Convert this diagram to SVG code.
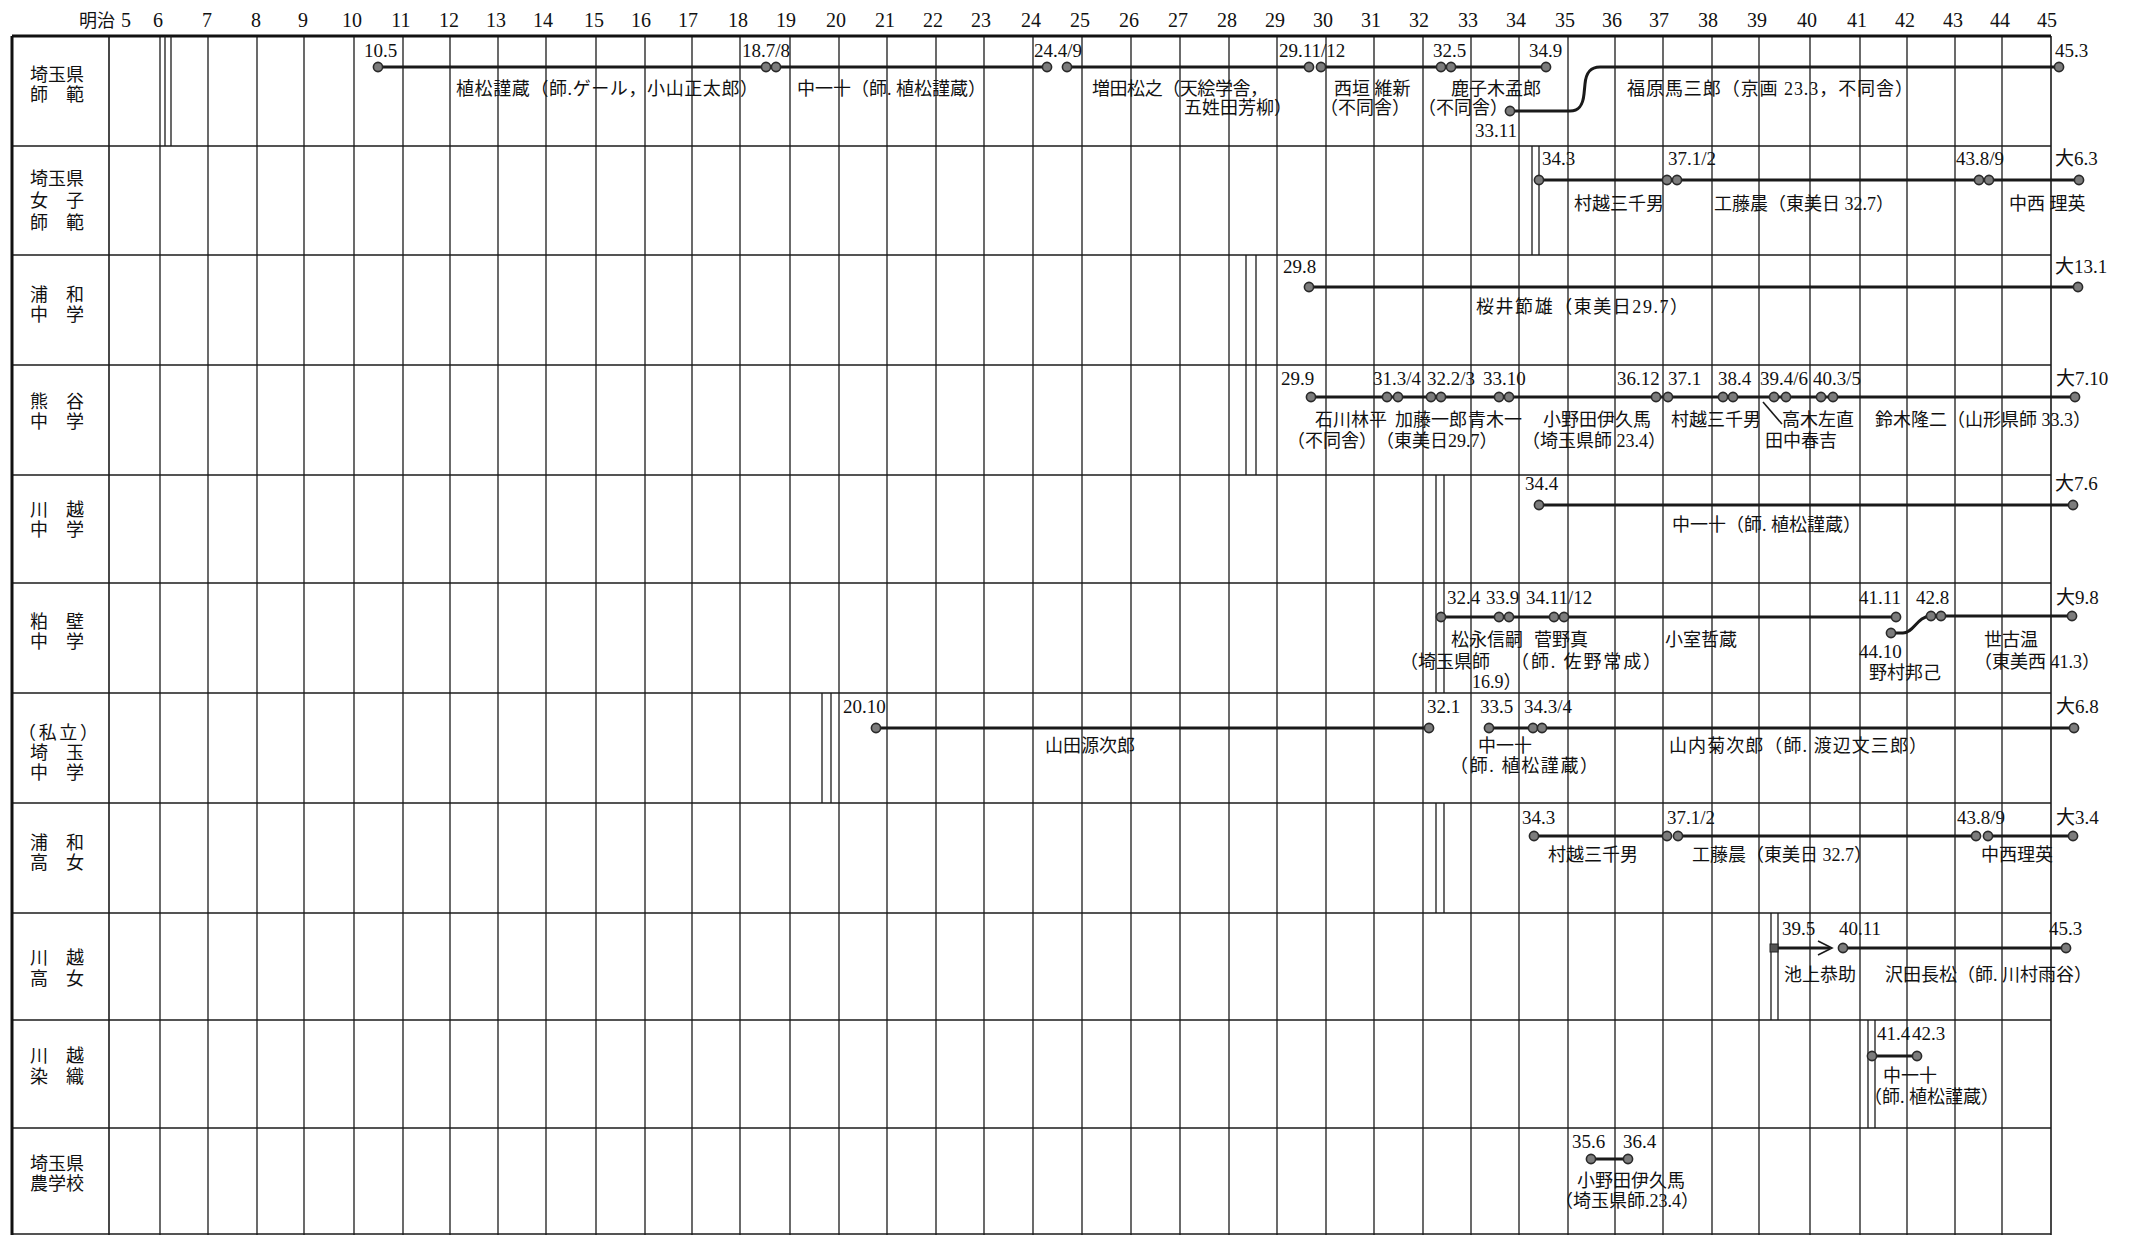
<svg xmlns="http://www.w3.org/2000/svg" xmlns:xlink="http://www.w3.org/1999/xlink" width="2133" height="1236" viewBox="0 0 2133 1236">
<style>
.g{stroke:#1c1c1c;stroke-width:1.3;fill:none}
.hl{stroke:#1c1c1c;stroke-width:1.6;fill:none}
.bd{stroke:#111;stroke-width:3;fill:none}
.bar{stroke:#1a1a1a;stroke-width:3;fill:none;stroke-linecap:butt}
.thin{stroke:#1a1a1a;stroke-width:1.6;fill:none}
.dot{fill:#7c7c7c;stroke:#2a2a2a;stroke-width:1.6}
.yr{font-family:"Liberation Serif","Noto Sans CJK JP",serif;font-size:20px;fill:#111;text-anchor:middle}
.d{font-family:"Liberation Serif","Noto Sans CJK JP",serif;font-size:19px;fill:#111}
.n{font-family:"Liberation Serif","Noto Sans CJK JP",sans-serif;font-size:18px;fill:#111}
.lb{font-family:"Noto Sans CJK JP",sans-serif;font-size:18px;fill:#111}
</style>
<defs>
<circle id="dot" r="4.6" class="dot"/>
</defs>
<rect width="2133" height="1236" fill="#fff"/>

<g id="grid">
<path class="g" d="M160,36V1235M208,36V1235M257,36V1235M304,36V1235M354,36V1235M403,36V1235M450,36V1235M498,36V1235M546,36V1235M596,36V1235M645,36V1235M692,36V1235M740,36V1235M790,36V1235M839,36V1235M887,36V1235M936,36V1235M984,36V1235M1033,36V1235M1082,36V1235M1131,36V1235M1180,36V1235M1229,36V1235M1277,36V1235M1326,36V1235M1374,36V1235M1423,36V1235M1471,36V1235M1519,36V1235M1568,36V1235M1615,36V1235M1663,36V1235M1712,36V1235M1759,36V1235M1810,36V1235M1860,36V1235M1907,36V1235M1955,36V1235M2002,36V1235"/>
<path class="hl" d="M12,146H2051M12,255H2051M12,365H2051M12,475H2051M12,583H2051M12,693H2051M12,803H2051M12,913H2051M12,1020H2051M12,1128H2051M12,1234H2051"/>
<path class="hl" d="M109,36V1235M2051,36V1235"/>
<path class="bd" d="M12,36H2051M12,36V1235"/>
<path class="g" d="M165,36V146M171,36V146M1532,146V255M1539,146V255M1246,255V475M1256,255V475M1436,475V693M1444,475V693M1436,803V913M1444,803V913M822,693V803M831,693V803M1771,913V1020M1778,913V1020M1868,1020V1128M1875,1020V1128"/>
</g>

<g id="header">
<text class="lb" x="79" y="27">明治<tspan x="121" style="font-family:'Liberation Serif',serif;font-size:20px">5</tspan></text>
<text class="yr" x="158" y="27">6</text><text class="yr" x="207" y="27">7</text><text class="yr" x="256" y="27">8</text><text class="yr" x="303" y="27">9</text><text class="yr" x="352" y="27">10</text><text class="yr" x="401" y="27">11</text><text class="yr" x="449" y="27">12</text><text class="yr" x="496" y="27">13</text><text class="yr" x="543" y="27">14</text><text class="yr" x="594" y="27">15</text><text class="yr" x="641" y="27">16</text><text class="yr" x="688" y="27">17</text><text class="yr" x="738" y="27">18</text><text class="yr" x="786" y="27">19</text><text class="yr" x="836" y="27">20</text><text class="yr" x="885" y="27">21</text><text class="yr" x="933" y="27">22</text><text class="yr" x="981" y="27">23</text><text class="yr" x="1031" y="27">24</text><text class="yr" x="1080" y="27">25</text><text class="yr" x="1129" y="27">26</text><text class="yr" x="1178" y="27">27</text><text class="yr" x="1227" y="27">28</text><text class="yr" x="1275" y="27">29</text><text class="yr" x="1323" y="27">30</text><text class="yr" x="1371" y="27">31</text><text class="yr" x="1419" y="27">32</text><text class="yr" x="1468" y="27">33</text><text class="yr" x="1516" y="27">34</text><text class="yr" x="1565" y="27">35</text><text class="yr" x="1612" y="27">36</text><text class="yr" x="1659" y="27">37</text><text class="yr" x="1708" y="27">38</text><text class="yr" x="1757" y="27">39</text><text class="yr" x="1807" y="27">40</text><text class="yr" x="1857" y="27">41</text><text class="yr" x="1905" y="27">42</text><text class="yr" x="1953" y="27">43</text><text class="yr" x="2000" y="27">44</text><text class="yr" x="2047" y="27">45</text>
</g>

<g id="connectors">
<path class="bar" d="M378,67H766M776,67H1047M1067,67H1309M1321,67H1441M1451,67H1546"/>
<path class="bar" d="M1510,111H1570C1580,111 1583,104 1584,94L1585,84C1586,73 1590,67 1600,67H2059"/>
<path class="bar" d="M1539,180H1667M1677,180H1979M1989,180H2079"/>
<path class="bar" d="M1309,287H2078"/>
<path class="bar" d="M1311,397H2075"/>
<path class="thin" d="M1763,402L1782,424"/>
<path class="bar" d="M1539,505H2073"/>
<path class="bar" d="M1441,617H1896M1941,616H2072"/>
<path class="bar" d="M1891,633H1903C1914,633 1917,616 1931,616"/>
<path class="bar" d="M876,728H1429M1489,728H1533M1542,728H2074"/>
<path class="bar" d="M1534,836H1667M1678,836H1976M1988,836H2073"/>
<path class="bar" d="M1774,948H1830"/>
<path class="thin" d="M1818,941L1832,948L1818,955"/>
<rect x="1770" y="944" width="8" height="8" fill="#555" stroke="#222" stroke-width="1"/>
<path class="bar" d="M1843,948H2066"/>
<path class="bar" d="M1872,1056H1917"/>
<path class="bar" d="M1591,1159H1628"/>
</g>

<g id="row1">
<text class="lb" x="30" y="81">埼玉県<tspan x="30" y="101">師　範</tspan></text>
<use href="#dot" x="378" y="67"/><use href="#dot" x="766" y="67"/><use href="#dot" x="776" y="67"/><use href="#dot" x="1047" y="67"/><use href="#dot" x="1067" y="67"/><use href="#dot" x="1309" y="67"/><use href="#dot" x="1321" y="67"/><use href="#dot" x="1441" y="67"/><use href="#dot" x="1451" y="67"/><use href="#dot" x="1546" y="67"/><use href="#dot" x="1510" y="111"/><use href="#dot" x="2059" y="67"/>
<text class="d" x="364" y="57">10.5</text><text class="d" x="742" y="57">18.7/8</text><text class="d" x="1034" y="57">24.4/9</text><text class="d" x="1279" y="57">29.11/12</text><text class="d" x="1433" y="57">32.5</text><text class="d" x="1529" y="57">34.9</text><text class="d" x="2055" y="57">45.3</text><text class="d" x="1475" y="137">33.11</text>
<text class="n" x="456" y="95" textLength="302">植松謹蔵（師.ゲール，小山正太郎）</text>
<text class="n" x="797" y="95">中一十（師. 植松謹蔵）</text>
<text class="n" x="1092" y="95" textLength="176">増田松之（天絵学舎，</text>
<text class="n" x="1184" y="114">五姓田芳柳）</text>
<text class="n" x="1334" y="95">西垣 維新</text>
<text class="n" x="1320" y="114">（不同舎）</text>
<text class="n" x="1451" y="95">鹿子木孟郎</text>
<text class="n" x="1418" y="114">（不同舎）</text>
<text class="n" x="1627" y="95" textLength="286">福原馬三郎（京画 23.3，不同舎）</text>
</g>

<g id="row2">
<text class="lb" x="30" y="185">埼玉県<tspan x="30" y="207">女　子</tspan><tspan x="30" y="229">師　範</tspan></text>
<use href="#dot" x="1539" y="180"/><use href="#dot" x="1667" y="180"/><use href="#dot" x="1677" y="180"/><use href="#dot" x="1979" y="180"/><use href="#dot" x="1989" y="180"/><use href="#dot" x="2079" y="180"/>
<text class="d" x="1542" y="165">34.3</text><text class="d" x="1668" y="165">37.1/2</text><text class="d" x="1956" y="165">43.8/9</text><text class="d" x="2055" y="165">大6.3</text>
<text class="n" x="1574" y="210">村越三千男</text>
<text class="n" x="1714" y="210">工藤晨（東美日 32.7）</text>
<text class="n" x="2009" y="210">中西 理英</text>
</g>

<g id="row3">
<text class="lb" x="30" y="301">浦　和<tspan x="30" y="321">中　学</tspan></text>
<use href="#dot" x="1309" y="287"/><use href="#dot" x="2078" y="287"/>
<text class="d" x="1283" y="273">29.8</text><text class="d" x="2055" y="273">大13.1</text>
<text class="n" x="1476" y="313" textLength="212">桜井節雄（東美日29.7）</text>
</g>

<g id="row4">
<text class="lb" x="30" y="408">熊　谷<tspan x="30" y="428">中　学</tspan></text>
<use href="#dot" x="1311" y="397"/><use href="#dot" x="1387" y="397"/><use href="#dot" x="1398" y="397"/><use href="#dot" x="1431" y="397"/><use href="#dot" x="1441" y="397"/><use href="#dot" x="1499" y="397"/><use href="#dot" x="1509" y="397"/><use href="#dot" x="1656" y="397"/><use href="#dot" x="1668" y="397"/><use href="#dot" x="1723" y="397"/><use href="#dot" x="1733" y="397"/><use href="#dot" x="1774" y="397"/><use href="#dot" x="1786" y="397"/><use href="#dot" x="1821" y="397"/><use href="#dot" x="1833" y="397"/><use href="#dot" x="2075" y="397"/>
<text class="d" x="1281" y="385">29.9</text><text class="d" x="1373" y="385">31.3/4</text><text class="d" x="1427" y="385">32.2/3</text><text class="d" x="1483" y="385">33.10</text><text class="d" x="1617" y="385">36.12</text><text class="d" x="1668" y="385">37.1</text><text class="d" x="1718" y="385">38.4</text><text class="d" x="1760" y="385">39.4/6</text><text class="d" x="1813" y="385">40.3/5</text><text class="d" x="2056" y="385">大7.10</text>
<text class="n" x="1315" y="426">石川林平</text>
<text class="n" x="1395" y="426">加藤一郎</text>
<text class="n" x="1468" y="426">青木一</text>
<text class="n" x="1543" y="426">小野田伊久馬</text>
<text class="n" x="1671" y="426">村越三千男</text>
<text class="n" x="1782" y="426">高木左直</text>
<text class="n" x="1875" y="426">鈴木隆二（山形県師 33.3）</text>
<text class="n" x="1287" y="447">（不同舎）</text>
<text class="n" x="1376" y="447">（東美日29.7）</text>
<text class="n" x="1522" y="447">（埼玉県師 23.4）</text>
<text class="n" x="1765" y="447">田中春吉</text>
</g>

<g id="row5">
<text class="lb" x="30" y="516">川　越<tspan x="30" y="536">中　学</tspan></text>
<use href="#dot" x="1539" y="505"/><use href="#dot" x="2073" y="505"/>
<text class="d" x="1525" y="490">34.4</text><text class="d" x="2055" y="490">大7.6</text>
<text class="n" x="1672" y="531">中一十（師. 植松謹蔵）</text>
</g>

<g id="row6">
<text class="lb" x="30" y="628">粕　壁<tspan x="30" y="648">中　学</tspan></text>
<use href="#dot" x="1441" y="617"/><use href="#dot" x="1499" y="617"/><use href="#dot" x="1509" y="617"/><use href="#dot" x="1554" y="617"/><use href="#dot" x="1564" y="617"/><use href="#dot" x="1896" y="617"/><use href="#dot" x="1891" y="633"/><use href="#dot" x="1931" y="616"/><use href="#dot" x="1941" y="616"/><use href="#dot" x="2072" y="616"/>
<text class="d" x="1447" y="604">32.4</text><text class="d" x="1486" y="604">33.9</text><text class="d" x="1526" y="604">34.11/12</text><text class="d" x="1859" y="604">41.11</text><text class="d" x="1916" y="604">42.8</text><text class="d" x="2056" y="604">大9.8</text>
<text class="d" x="1859" y="658">44.10</text>
<text class="n" x="1451" y="646">松永信嗣</text>
<text class="n" x="1534" y="646">菅野真</text>
<text class="n" x="1665" y="646">小室哲蔵</text>
<text class="n" x="1984" y="646">世古温</text>
<text class="n" x="1400" y="668">（埼玉県師</text>
<text class="n" x="1472" y="688">16.9）</text>
<text class="n" x="1511" y="668" textLength="150">（師. 佐野常成）</text>
<text class="n" x="1974" y="668">（東美西 41.3）</text>
<text class="n" x="1869" y="679">野村邦己</text>
</g>

<g id="row7">
<text class="lb"><tspan x="18" y="739" textLength="80">（私立）</tspan><tspan x="30" y="759">埼　玉</tspan><tspan x="30" y="779">中　学</tspan></text>
<use href="#dot" x="876" y="728"/><use href="#dot" x="1429" y="728"/><use href="#dot" x="1489" y="728"/><use href="#dot" x="1533" y="728"/><use href="#dot" x="1542" y="728"/><use href="#dot" x="2074" y="728"/>
<text class="d" x="843" y="713">20.10</text><text class="d" x="1427" y="713">32.1</text><text class="d" x="1480" y="713">33.5</text><text class="d" x="1524" y="713">34.3/4</text><text class="d" x="2056" y="713">大6.8</text>
<text class="n" x="1045" y="752">山田源次郎</text>
<text class="n" x="1478" y="752">中一十</text>
<text class="n" x="1450" y="772" textLength="148">（師. 植松謹蔵）</text>
<text class="n" x="1669" y="752" textLength="258">山内菊次郎（師. 渡辺文三郎）</text>
</g>

<g id="row8">
<text class="lb" x="30" y="849">浦　和<tspan x="30" y="869">高　女</tspan></text>
<use href="#dot" x="1534" y="836"/><use href="#dot" x="1667" y="836"/><use href="#dot" x="1678" y="836"/><use href="#dot" x="1976" y="836"/><use href="#dot" x="1988" y="836"/><use href="#dot" x="2073" y="836"/>
<text class="d" x="1522" y="824">34.3</text><text class="d" x="1667" y="824">37.1/2</text><text class="d" x="1957" y="824">43.8/9</text><text class="d" x="2056" y="824">大3.4</text>
<text class="n" x="1548" y="861">村越三千男</text>
<text class="n" x="1692" y="861">工藤晨（東美日 32.7）</text>
<text class="n" x="1981" y="861">中西理英</text>
</g>

<g id="row9">
<text class="lb" x="30" y="964">川　越<tspan x="30" y="985">高　女</tspan></text>
<use href="#dot" x="1843" y="948"/><use href="#dot" x="2066" y="948"/>
<text class="d" x="1782" y="935">39.5</text><text class="d" x="1839" y="935">40.11</text><text class="d" x="2049" y="935">45.3</text>
<text class="n" x="1784" y="981">池上恭助</text>
<text class="n" x="1885" y="981">沢田長松（師. 川村雨谷）</text>
</g>

<g id="row10">
<text class="lb" x="30" y="1062">川　越<tspan x="30" y="1083">染　織</tspan></text>
<use href="#dot" x="1872" y="1056"/><use href="#dot" x="1917" y="1056"/>
<text class="d" x="1877" y="1040">41.4</text><text class="d" x="1912" y="1040">42.3</text>
<text class="n" x="1883" y="1082">中一十</text>
<text class="n" x="1864" y="1103">（師. 植松謹蔵）</text>
</g>

<g id="row11">
<text class="lb" x="30" y="1170">埼玉県<tspan x="30" y="1190">農学校</tspan></text>
<use href="#dot" x="1591" y="1159"/><use href="#dot" x="1628" y="1159"/>
<text class="d" x="1572" y="1148">35.6</text><text class="d" x="1623" y="1148">36.4</text>
<text class="n" x="1577" y="1187">小野田伊久馬</text>
<text class="n" x="1555" y="1207">（埼玉県師.23.4）</text>
</g>
</svg>
